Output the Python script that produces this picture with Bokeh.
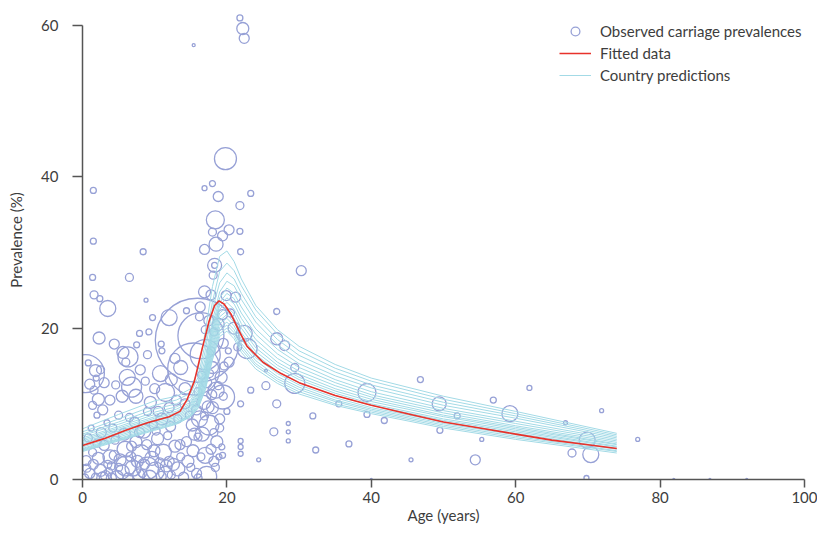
import numpy as np
from bokeh.plotting import figure
from bokeh.models import FixedTicker, Legend, LegendItem, ColumnDataSource
from bokeh.embed import file_html
from bokeh.resources import INLINE

FONT = "Lato"
TEXT_COLOR = "#3d3d3d"

# ---------------- data ----------------
x_ticks = [0, 20, 40, 60, 80, 100]
y_ticks = [0, 20, 40, 60]

# observed carriage prevalences: age (years), prevalence (%), study sample size
obs_age = [
    19.8, 21.8, 22.2, 22.4, 15.4, 1.5, 18.0, 16.9, 18.8, 23.3, 21.8, 18.4, 18.0, 20.3, 19.4,
    21.8, 18.5, 16.9, 21.9, 1.5, 8.4, 1.4, 6.5, 18.3, 18.3, 18.1, 30.3, 26.9, 8.8,
    1.6, 2.4, 3.5, 2.3, 4.4, 9.7, 12.0, 9.2, 7.9, 10.9, 14.4, 6.3, 5.6, 1.8, 0.4,
    15.9, 16.4, 15.4, 17.0,
    16.9, 17.8, 19.9, 21.2, 17.5, 18.2, 18.8, 19.4, 20.5, 17.8, 19.5, 16.2, 20.2, 21.0, 20.3,
    21.5, 22.8, 22.4, 19.4, 16.3, 17.0,
    26.9, 28.0, 29.4, 29.4, 25.4, 23.3, 26.9, 21.9, 26.5, 28.5, 28.5, 28.5, 31.9, 32.3, 35.5,
    36.9, 39.4, 39.4, 41.8, 45.5, 46.8, 49.4, 49.5, 51.9, 54.4, 55.3, 56.9, 59.2, 61.9, 24.4,
    19.3, 19.4, 21.9, 21.9, 21.9, 25.4, 66.9, 71.9, 76.9, 69.9, 70.4, 67.8, 69.8, 81.9, 86.9,
    92.0, 40.0,
    0.3, 1.0, 1.8, 2.5, 3.2, 4.0, 4.8, 5.5, 6.3, 7.0, 7.8, 8.6, 9.3, 10.1, 10.9,
    11.6, 12.3, 13.2, 14.0, 15.0, 16.0, 17.2, 17.0,
    0.5, 1.4, 2.2, 3.0, 3.8, 4.5, 5.2, 5.9, 6.7, 7.4, 8.1, 8.9, 9.6, 10.4, 11.2,
    12.0, 12.8, 13.6, 14.4, 15.3, 16.0, 6.0, 9.0, 3.5, 11.8,
    0.8, 2.6, 4.2, 5.8, 7.2, 8.5, 9.8, 11.0, 12.2, 3.4, 6.5, 10.5,
    3.8, 4.6, 5.5, 6.2, 6.8, 7.4, 8.0, 8.7, 9.4, 10.0, 10.8, 11.5, 12.3, 13.0, 13.6,
    2.5, 3.0, 6.0, 9.0, 12.8, 14.2, 7.5, 11.0,
    1.0, 1.6, 2.2, 1.4, 2.8, 0.8, 1.9, 2.0,
    15.5, 16.2, 16.8, 17.5, 18.0, 18.5, 17.2, 16.0, 19.0, 18.6, 17.8, 19.2, 16.5, 15.8, 18.2,
    14.8, 19.5, 20.0, 19.6, 18.0,
    0.6, 1.5, 2.8, 3.6, 4.4, 5.0, 6.8, 7.6, 8.3, 9.9, 10.7, 11.5, 12.6, 13.5, 14.6,
    15.8, 16.4, 18.4, 18.9, 15.2, 16.6, 17.4, 18.8, 17.9, 16.9, 14.2, 13.2, 12.0, 9.0, 5.0,
    2.0, 1.2, 7.9, 10.2, 4.0, 19.0, 18.2, 17.6,
]
obs_prev = [
    42.4, 61.0, 59.6, 58.3, 57.4, 38.2, 39.1, 38.5, 37.4, 37.8, 36.2, 34.3, 32.7, 33.0, 32.2,
    32.8, 31.1, 30.4, 30.1, 31.5, 30.1, 26.7, 26.7, 28.3, 28.3, 27.0, 27.6, 22.2, 23.7,
    24.4, 23.9, 22.6, 18.7, 17.9, 21.4, 21.4, 19.5, 19.3, 17.9, 22.3, 16.2, 16.8, 14.4, 14.0,
    18.4, 19.0, 14.6, 16.5,
    24.8, 24.4, 24.3, 24.1, 21.0, 19.5, 20.5, 21.8, 22.0, 17.0, 18.0, 21.5, 17.0, 20.0, 15.5,
    17.5, 17.3, 19.3, 10.9, 22.8, 19.8,
    18.6, 17.7, 14.8, 12.7, 12.4, 11.8, 10.0, 10.0, 6.3, 7.4, 6.3, 5.1, 8.4, 3.9, 10.0,
    4.7, 11.5, 8.6, 7.8, 2.6, 13.2, 10.0, 6.5, 8.4, 2.6, 5.3, 10.5, 8.7, 12.1, 2.6,
    4.3, 3.2, 5.1, 4.3, 3.4, 14.4, 7.5, 9.1, 5.3, 5.2, 3.3, 3.5, 0.2, 0.0, 0.0,
    0.0, 0.0,
    0.2, 0.8, 0.3, 1.2, 0.5, 1.8, 0.4, 1.0, 0.2, 1.5, 0.6, 2.0, 0.3, 1.1, 0.4,
    1.8, 0.6, 1.4, 0.3, 1.6, 0.2, 0.4, 3.2,
    2.5, 3.6, 2.8, 4.5, 3.0, 5.2, 2.6, 4.0, 3.0, 5.0, 3.4, 4.6, 2.8, 5.4, 3.6,
    2.4, 4.4, 3.0, 5.0, 3.8, 5.6, 1.8, 1.5, 2.0, 5.8,
    5.5, 6.2, 6.8, 6.0, 7.6, 6.4, 7.2, 8.0, 7.0, 7.5, 8.2, 9.0,
    10.5, 12.5, 11.0, 13.5, 12.2, 11.0, 14.5, 13.0, 10.2, 12.0, 14.0, 11.5, 13.2, 10.5, 14.8,
    14.5, 12.8, 15.5, 16.5, 16.0, 12.0, 17.8, 17.0,
    12.6, 11.8, 10.6, 9.8, 9.2, 15.4, 13.4, 8.5,
    6.0, 8.0, 10.2, 7.2, 9.5, 11.8, 12.8, 11.6, 8.0, 5.0, 4.0, 13.5, 13.8, 9.2, 6.2,
    8.5, 11.0, 9.0, 15.0, 14.8,
    1.5, 2.0, 0.2, 1.0, 3.2, 1.6, 4.4, 2.4, 0.8, 3.8, 2.2, 0.8, 2.0, 4.6, 2.4,
    0.8, 3.0, 1.6, 3.0, 7.2, 6.0, 9.6, 12.4, 11.2, 8.4, 10.0, 8.0, 9.5, 9.0, 8.5,
    4.8, 6.8, 6.2, 6.4, 0.2, 6.8, 2.4, 14.0,
]
obs_n = [
    1936, 144, 576, 400, 36, 144, 144, 100, 400, 144, 256, 1296, 256, 400, 400,
    144, 784, 400, 144, 144, 144, 144, 256, 784, 144, 256, 400, 144, 64,
    256, 144, 1024, 576, 400, 144, 1024, 144, 144, 144, 144, 1600, 576, 576, 5776,
    28224, 8464, 10816, 3600,
    576, 400, 400, 400, 400, 256, 576, 400, 256, 256, 400, 256, 144, 576, 400,
    256, 1600, 1024, 2304, 400, 256,
    576, 400, 256, 1600, 256, 144, 256, 144, 256, 64, 64, 64, 144, 144, 144,
    144, 1296, 144, 144, 64, 144, 784, 144, 144, 400, 64, 144, 1024, 100, 64,
    144, 144, 100, 100, 100, 36, 64, 64, 64, 1024, 1024, 256, 100, 16, 16,
    16, 16,
    256, 400, 256, 576, 400, 256, 576, 784, 400, 1024, 576, 400, 784, 1296, 400,
    576, 256, 784, 400, 256, 256, 1600, 1024,
    400, 256, 576, 400, 784, 256, 576, 1024, 400, 576, 1296, 400, 784, 576, 1024,
    400, 576, 256, 400, 576, 256, 1600, 1936, 256, 256,
    256, 400, 256, 576, 400, 784, 256, 576, 400, 144, 256, 400,
    400, 256, 576, 1024, 1600, 784, 400, 256, 576, 400, 1024, 1296, 576, 400, 784,
    256, 400, 256, 256, 400, 576, 144, 144,
    400, 256, 576, 256, 400, 144, 144, 144,
    576, 1024, 784, 1600, 576, 1024, 400, 256, 400, 576, 400, 576, 256, 400, 256,
    256, 256, 144, 256, 576,
    256, 400, 576, 256, 400, 256, 400, 576, 256, 576, 400, 784, 576, 400, 576,
    400, 256, 256, 144, 576, 784, 576, 256, 400, 256, 400, 256, 400, 256, 256,
    256, 144, 400, 256, 400, 256, 400, 256,
]

# fitted model
fit_age = [0, 3, 6, 9, 12, 13.5, 14.5, 15.5, 16.5, 17.5, 18.3, 18.9, 19.6, 20.6, 21.6,
           22.8, 25, 27.5, 30, 35, 40, 45, 50, 55, 60, 65, 70, 74]
fit_prev = [4.5, 5.4, 6.5, 7.5, 8.3, 9.0, 10.6, 13.0, 17.0, 20.8, 23.0, 23.6, 23.2, 21.8, 19.8,
            17.6, 15.5, 14.0, 12.8, 11.1, 9.8, 8.7, 7.6, 6.8, 6.0, 5.2, 4.6, 4.1]

# country predictions
country_age = [0, 5, 10, 13, 15, 16, 17, 18, 19, 20, 21, 22, 24, 27, 30, 35, 40, 50, 60, 74]
country_01 = [6.7, 8.6, 10.4, 11.0, 12.0, 14.5, 19.5, 25.5, 29.5, 30.2, 28.8, 26.5, 23.0, 19.8, 17.6, 15.2, 13.4, 11.0, 9.0, 6.1]
country_02 = [6.3, 8.0, 9.8, 10.5, 11.4, 13.5, 18.0, 23.5, 27.5, 28.6, 27.6, 25.6, 22.4, 19.2, 17.0, 14.7, 13.0, 10.6, 8.7, 5.9]
country_03 = [6.0, 7.6, 9.3, 10.0, 10.9, 12.8, 17.0, 22.5, 26.0, 27.3, 26.5, 24.6, 21.5, 18.5, 16.4, 14.2, 12.5, 10.2, 8.4, 5.7]
country_04 = [5.8, 7.3, 8.9, 9.6, 10.5, 12.2, 16.0, 21.0, 24.8, 26.2, 25.6, 23.8, 20.8, 17.8, 15.8, 13.7, 12.1, 9.8, 8.1, 5.5]
country_05 = [5.5, 7.0, 8.6, 9.3, 10.2, 11.8, 15.3, 20.3, 24.0, 25.3, 24.6, 22.8, 19.9, 17.2, 15.3, 13.2, 11.6, 9.4, 7.7, 5.3]
country_06 = [5.3, 6.8, 8.3, 9.0, 10.0, 11.5, 15.0, 19.8, 23.4, 24.6, 23.9, 22.0, 19.2, 16.6, 14.8, 12.8, 11.2, 9.1, 7.4, 5.1]
country_07 = [5.1, 6.6, 8.1, 8.8, 9.8, 11.2, 14.6, 19.4, 23.0, 24.0, 23.2, 21.3, 18.5, 16.0, 14.3, 12.4, 10.9, 8.8, 7.1, 4.9]
country_08 = [4.9, 6.4, 7.9, 8.6, 9.6, 11.0, 14.2, 19.0, 22.5, 23.4, 22.5, 20.6, 17.9, 15.5, 13.9, 12.0, 10.6, 8.5, 6.9, 4.7]
country_09 = [4.7, 6.2, 7.7, 8.4, 9.4, 10.8, 13.9, 18.6, 22.0, 22.8, 21.9, 20.0, 17.4, 15.1, 13.5, 11.7, 10.3, 8.3, 6.7, 4.6]
country_10 = [4.5, 6.0, 7.5, 8.2, 9.2, 10.5, 13.5, 18.1, 21.5, 22.3, 21.3, 19.4, 16.9, 14.7, 13.2, 11.4, 10.0, 8.0, 6.5, 4.4]
country_11 = [4.3, 5.8, 7.3, 8.0, 9.0, 10.3, 13.2, 17.7, 21.0, 21.8, 20.8, 18.9, 16.5, 14.3, 12.8, 11.1, 9.8, 7.8, 6.3, 4.3]
country_12 = [4.1, 5.6, 7.1, 7.8, 8.8, 10.1, 12.9, 17.3, 20.6, 21.3, 20.3, 18.5, 16.1, 14.0, 12.5, 10.8, 9.5, 7.6, 6.1, 4.1]
country_13 = [4.0, 5.4, 6.9, 7.6, 8.6, 9.9, 12.6, 16.9, 20.1, 20.8, 19.8, 18.0, 15.7, 13.6, 12.2, 10.5, 9.3, 7.4, 5.9, 4.0]
country_14 = [3.9, 5.3, 6.7, 7.5, 8.5, 9.7, 12.3, 16.5, 19.7, 20.4, 19.4, 17.6, 15.3, 13.3, 11.9, 10.3, 9.1, 7.2, 5.7, 3.8]
country_15 = [3.8, 5.2, 6.6, 7.4, 8.4, 9.5, 12.0, 16.1, 19.3, 20.0, 19.0, 17.2, 15.0, 13.0, 11.6, 10.0, 8.9, 7.0, 5.5, 3.7]
country_16 = [3.7, 5.1, 6.5, 7.3, 8.3, 9.4, 11.8, 15.8, 18.9, 19.6, 18.6, 16.8, 14.6, 12.7, 11.3, 9.8, 8.7, 6.8, 5.3, 3.5]
country_curves = [country_01, country_02, country_03, country_04, country_05, country_06,
                  country_07, country_08, country_09, country_10, country_11, country_12,
                  country_13, country_14, country_15, country_16]

# ---------------- figure ----------------
p = figure(width=817, height=527, x_range=(0, 100), y_range=(0, 63.3),
           output_backend="svg", toolbar_location=None,
           min_border_left=82, min_border_right=13, min_border_top=0, min_border_bottom=48)
p.outline_line_color = None
p.grid.visible = False
p.background_fill_color = "white"

src = ColumnDataSource(dict(age=obs_age, prev=obs_prev, n=obs_n,
                            size=list(np.sqrt(np.array(obs_n, dtype=float)) / 2.0)))
r_obs = p.scatter("age", "prev", size="size", source=src, marker="circle",
                  fill_color=None, line_color="#97A1D6", line_width=1.3)
r_cty = p.multi_line(xs=[country_age] * len(country_curves), ys=country_curves,
                     line_color="#A3DAE6", line_width=1.0)
r_fit = p.line(fit_age, fit_prev, line_color="#E8322B", line_width=1.6)

for ax in (p.xaxis[0], p.yaxis[0]):
    ax.axis_line_color = "#555555"
    ax.axis_line_width = 1.5
    ax.major_tick_line_color = "#555555"
    ax.major_tick_line_width = 1.5
    ax.major_tick_in = 0
    ax.minor_tick_line_color = None
    ax.major_label_text_font = FONT
    ax.major_label_text_font_size = "15px"
    ax.major_label_text_color = TEXT_COLOR
    ax.axis_label_text_font = FONT
    ax.axis_label_text_font_size = "15px"
    ax.axis_label_text_font_style = "normal"
    ax.axis_label_text_color = TEXT_COLOR

p.xaxis.ticker = FixedTicker(ticks=x_ticks)
p.yaxis.ticker = FixedTicker(ticks=y_ticks)
p.xaxis.bounds = (0, 100)
p.yaxis.bounds = (0, 60)
p.xaxis.major_tick_out = 8
p.yaxis.major_tick_out = 10
p.xaxis.major_label_standoff = 4
p.yaxis.major_label_standoff = 14
p.xaxis.axis_label = "Age (years)"
p.yaxis.axis_label = "Prevalence (%)"
p.xaxis.axis_label_standoff = 0
p.yaxis.axis_label_standoff = 13

legend = Legend(items=[
    LegendItem(label="Observed carriage prevalences", renderers=[r_obs]),
    LegendItem(label="Fitted data", renderers=[r_fit]),
    LegendItem(label="Country predictions", renderers=[r_cty]),
], location=(477, 393))
legend.border_line_color = None
legend.background_fill_alpha = 0
legend.padding = 0
legend.margin = 0
legend.spacing = 0
legend.glyph_width = 32
legend.glyph_height = 22
legend.label_height = 22
legend.label_standoff = 9
legend.label_text_font = FONT
legend.label_text_font_size = "15px"
legend.label_text_color = TEXT_COLOR
p.add_layout(legend)

open("out.html", "w").write(file_html(p, INLINE))
